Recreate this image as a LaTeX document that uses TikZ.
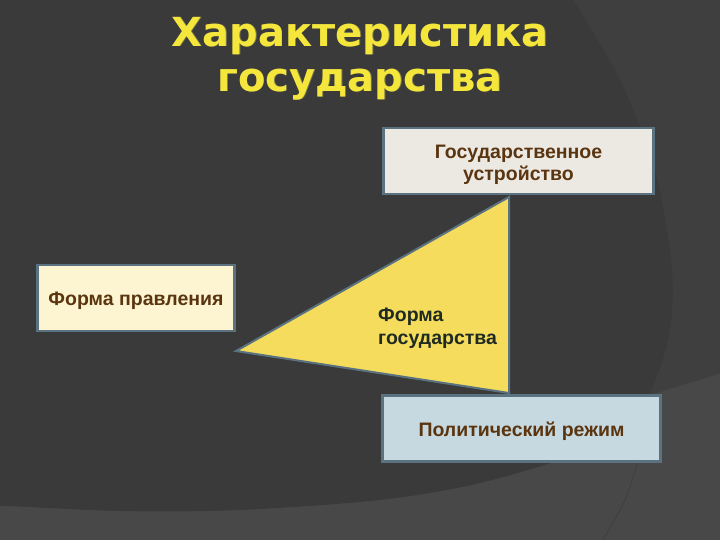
\documentclass[tikz,border=0pt]{standalone}
\usepackage{fontspec}
\setmainfont{Liberation Sans}
\newfontfamily\titlefont{DejaVu Sans}
\definecolor{bgdark}{HTML}{3A3A3A}
\definecolor{bgmid}{HTML}{3F3F3F}
\definecolor{bglight}{HTML}{484848}
\definecolor{titleyellow}{HTML}{F4E63A}
\definecolor{edgeblue}{HTML}{5B7281}
\definecolor{textbrown}{HTML}{5A3510}
\definecolor{greyfill}{HTML}{ECE9E3}
\definecolor{creamfill}{HTML}{FDF5D2}
\definecolor{bluefill}{HTML}{C6D9E0}
\definecolor{triyellow}{HTML}{F5DC5C}
\definecolor{tritext}{HTML}{1E2A22}
\tikzset{
  infobox/.style={draw=edgeblue, line width=2.5pt, minimum height=66pt, inner sep=0pt},
  boxtext/.style={font=\bfseries\fontsize{19.5}{22.5}\selectfont, text=textbrown, align=center, inner sep=0pt},
  titletext/.style={font=\titlefont\bfseries\fontsize{40}{45}\selectfont, align=center},
}
\begin{document}
\begin{tikzpicture}[x=1pt,y=-1pt]
\useasboundingbox (0,0) rectangle (720,540);
\clip (0,0) rectangle (720,540);
\fill[bglight] (0,0) rectangle (720,540);
\fill[bgmid] (560,-5) -- (725,-5) -- (725,372) -- (650,395) -- cycle;
\fill[bgdark] plot[smooth] coordinates {(-10,505) (120,511) (240,510) (380,500) (480,483) (580,452) (640,410) (668,340) (672,270) (655,170) (620,80) (570,-5)} -- (-10,-5) -- cycle;
\draw[bgmid, line width=0.8pt] plot[smooth] coordinates {(640,455) (625,500) (600,545)};
% title
\node[titletext, text=titleyellow!70!white, opacity=0.35] at (360.6,58.6) {Характеристика\\государства};
\node[titletext, text=titleyellow] (title) at (360,59) {Характеристика\\государства};
% triangle
\coordinate (apex) at (236,351);
\coordinate (ttop) at (509,197);
\coordinate (tbot) at (509,393);
\fill[triyellow] (apex) -- (ttop) -- (tbot) -- cycle;
\draw[edgeblue, line width=2pt, line join=miter] (apex) -- (ttop) -- (tbot) -- cycle;
\node[anchor=west, font=\bfseries\fontsize{19.5}{23}\selectfont, text=tritext, align=left, inner sep=0pt] (tlabel) at (378,328) {Форма\\государства};
% boxes
\node[infobox, fill=greyfill, minimum width=270pt] (ustr) at (518.5,161) {};
\node[boxtext] (ustrtext) at (518.5,165) {Государственное\\устройство};
\node[infobox, fill=creamfill, minimum width=197pt] (prav) at (136,298) {};
\node[boxtext] (pravtext) at (136,300.5) {Форма правления};
\node[infobox, fill=bluefill, minimum width=278pt] (rezh) at (521.5,428.5) {};
\node[boxtext] (rezhtext) at (521.5,431) {Политический режим};
\end{tikzpicture}
\end{document}
